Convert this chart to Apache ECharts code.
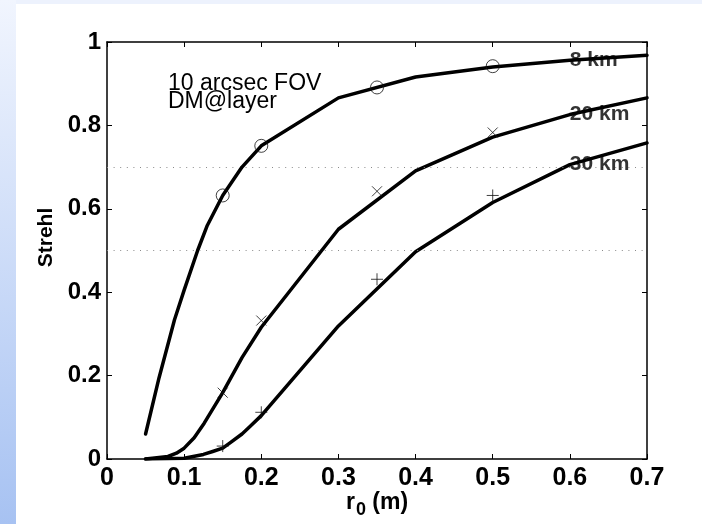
<!DOCTYPE html>
<html>
<head>
<meta charset="utf-8">
<script src="https://cdn.jsdelivr.net/npm/echarts@6/dist/echarts.min.js"></script>
<style>html,body{margin:0;padding:0;background:#fff}#c{width:702px;height:524px}</style>
</head>
<body>
<div id="c"></div>
<script>
// ---- data ----
const r0_8km = [0.05, 0.0675, 0.0875, 0.1, 0.1175, 0.13, 0.15, 0.175, 0.2, 0.3, 0.4, 0.5, 0.6, 0.7];
const strehl_8km = [0.06, 0.195, 0.334, 0.405, 0.5, 0.56, 0.632, 0.70, 0.751, 0.866, 0.916, 0.94, 0.956, 0.968];

const r0_20km = [0.05, 0.079, 0.09, 0.1, 0.113, 0.126, 0.15, 0.175, 0.2, 0.3, 0.4, 0.5, 0.6, 0.7];
const strehl_20km = [0.0, 0.006, 0.014, 0.026, 0.051, 0.086, 0.159, 0.243, 0.316, 0.551, 0.691, 0.772, 0.826, 0.866];

const r0_30km = [0.05, 0.1, 0.125, 0.137, 0.15, 0.159, 0.175, 0.186, 0.2, 0.3, 0.4, 0.5, 0.6, 0.7];
const strehl_30km = [0.0, 0.002, 0.011, 0.018, 0.026, 0.038, 0.06, 0.079, 0.104, 0.319, 0.497, 0.615, 0.706, 0.758];

const marker_r0 = [0.15, 0.2, 0.35, 0.5];
const marker_8km = [0.632, 0.751, 0.891, 0.942];
const marker_20km = [0.159, 0.332, 0.642, 0.783];
const marker_30km = [0.031, 0.112, 0.431, 0.632];

const curveLabels = ['8 km', '20 km', '30 km'];
const labelR0 = 0.6;
const refLevels = [0.7, 0.5];

const xTicks = {min: 0, max: 0.7, interval: 0.1};
const yTicks = {min: 0, max: 1, interval: 0.2};

// ---- build ----
const zip = (xs, ys) => xs.map((x, i) => [x, ys[i]]);
const FONT = '"Liberation Sans", Arial, Helvetica, sans-serif';

const lineSeries = (xs, ys) => ({
  type: 'line', data: zip(xs, ys), showSymbol: false, symbol: 'none',
  lineStyle: {color: '#000', width: 3.5, join: 'round', cap: 'round'},
  z: 3, silent: true
});
const markerSeries = (ys, symbol, size) => ({
  type: 'scatter', data: zip(marker_r0, ys), symbol: symbol, symbolSize: size,
  itemStyle: {color: 'rgba(0,0,0,0)', borderColor: '#111', borderWidth: 1},
  z: 4, silent: true
});
const valueAt = (xs, ys, x) => ys[xs.indexOf(x)];

const labelData = [
  {name: curveLabels[0], value: [labelR0, valueAt(r0_8km, strehl_8km, labelR0)]},
  {name: curveLabels[1], value: [labelR0, valueAt(r0_20km, strehl_20km, labelR0)]},
  {name: curveLabels[2], value: [labelR0, valueAt(r0_30km, strehl_30km, labelR0)]}
];

const chart = echarts.init(document.getElementById('c'), null, {renderer: 'canvas'});
chart.setOption({
  animation: false,
  graphic: [
    {type: 'rect', z: -10, shape: {x: 0, y: 0, width: 702, height: 524}, style: {fill: '#edf2fd'}},
    {type: 'rect', z: -9, shape: {x: 0, y: 0, width: 16, height: 524},
      style: {fill: new echarts.graphic.LinearGradient(0, 0, 0, 1, [
        {offset: 0, color: '#f1f5fe'}, {offset: 1, color: '#a7c2f2'}])}},
    {type: 'rect', z: -8, shape: {x: 16, y: 4, width: 686, height: 520}, style: {fill: '#ffffff'}},
    {type: 'text', z: 10, left: 168, top: 72,
      style: {text: '10 arcsec FOV\nDM@layer', font: '23px ' + FONT, lineHeight: 18, fill: '#000'}}
  ],
  grid: {left: 107, right: 55, top: 42, bottom: 65, containLabel: false, outerBoundsMode: 'none'},
  xAxis: [
    {type: 'value', min: xTicks.min, max: xTicks.max, interval: xTicks.interval,
      name: '{r|r}{s|0}{r| (m)}', nameLocation: 'middle', nameGap: 28, nameMoveOverlap: false,
      nameTextStyle: {rich: {
        r: {fontFamily: FONT, fontWeight: 'bold', fontSize: 23, color: '#000'},
        s: {fontFamily: FONT, fontWeight: 'bold', fontSize: 18, color: '#000', verticalAlign: 'bottom', padding: [16, 0, 0, 1], lineHeight: 32}
      }},
      axisLine: {show: true, onZero: false, lineStyle: {color: '#000', width: 1.5}},
      axisTick: {show: true, inside: true, length: 5, lineStyle: {color: '#000', width: 1}},
      axisLabel: {show: true, margin: 7, color: '#000', fontFamily: FONT, fontWeight: 'bold', fontSize: 25},
      splitLine: {show: false}},
    {type: 'value', position: 'top', min: xTicks.min, max: xTicks.max, interval: xTicks.interval,
      axisLine: {show: true, onZero: false, lineStyle: {color: '#000', width: 1.5}},
      axisTick: {show: true, inside: true, length: 5, lineStyle: {color: '#000', width: 1}},
      axisLabel: {show: false}, splitLine: {show: false}}
  ],
  yAxis: [
    {type: 'value', min: yTicks.min, max: yTicks.max, interval: yTicks.interval,
      name: 'Strehl', nameLocation: 'middle', nameGap: 50, nameMoveOverlap: false,
      nameTextStyle: {fontFamily: FONT, fontWeight: 'bold', fontSize: 21, color: '#000', padding: [0, 0, 0, 26]},
      axisLine: {show: true, onZero: false, lineStyle: {color: '#000', width: 1.5}},
      axisTick: {show: true, inside: true, length: 5, lineStyle: {color: '#000', width: 1}},
      axisLabel: {show: true, margin: 6, color: '#000', fontFamily: FONT, fontWeight: 'bold', fontSize: 24},
      splitLine: {show: false}},
    {type: 'value', position: 'right', min: yTicks.min, max: yTicks.max, interval: yTicks.interval,
      axisLine: {show: true, onZero: false, lineStyle: {color: '#000', width: 1.5}},
      axisTick: {show: true, inside: true, length: 5, lineStyle: {color: '#000', width: 1}},
      axisLabel: {show: false}, splitLine: {show: false}}
  ],
  series: [
    {type: 'line', data: [], silent: true,
      markLine: {silent: true, symbol: 'none', label: {show: false},
        lineStyle: {color: '#8a8a8a', width: 1, type: [1, 5.6]},
        data: refLevels.map(v => ({yAxis: v}))}},
    lineSeries(r0_8km, strehl_8km),
    lineSeries(r0_20km, strehl_20km),
    lineSeries(r0_30km, strehl_30km),
    markerSeries(marker_8km, 'circle', 13),
    markerSeries(marker_20km, 'path://M0,0L10,10M10,0L0,10', 10),
    markerSeries(marker_30km, 'path://M5,0L5,10M0,5L10,5', 12),
    {type: 'scatter', data: labelData, symbolSize: 0, z: 6, silent: true,
      label: {show: true, formatter: '{b}', position: 'right', distance: 0,
        fontFamily: FONT, fontWeight: 'bold', fontSize: 21, color: '#000'}}
  ]
});
</script>
</body>
</html>
